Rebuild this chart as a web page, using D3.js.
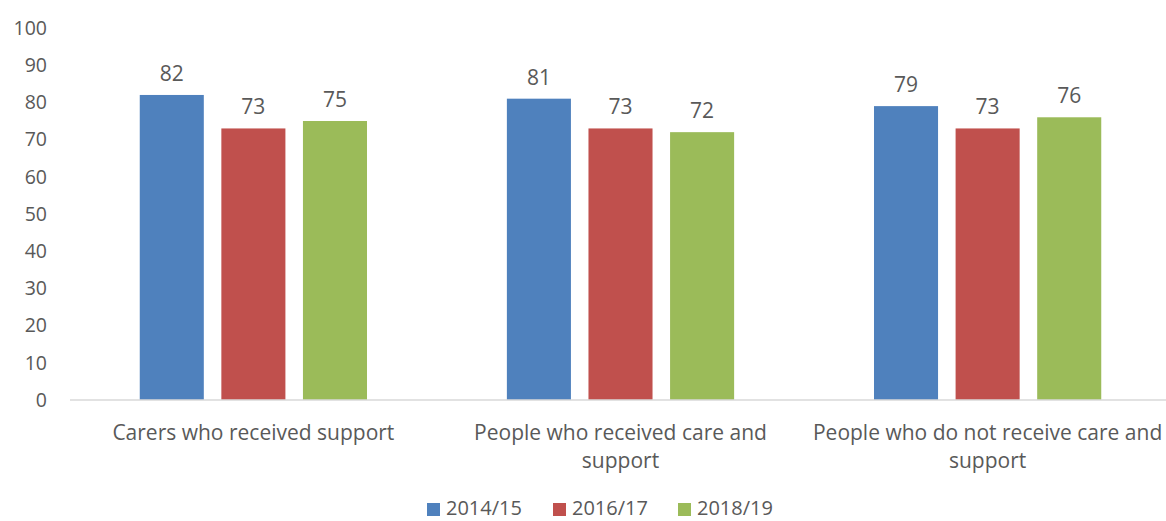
<!DOCTYPE html>
<html>
<head>
<meta charset="utf-8">
<script src="https://cdn.jsdelivr.net/npm/d3@7"></script>
<style>
  body { margin: 0; background: #fff; }
  text { font-family: "Open Sans", "Liberation Sans", sans-serif; fill: #595959; }
</style>
</head>
<body>
<svg id="chart" width="1166" height="521"></svg>
<script>
const categories = ["Carers who received support", "People who received care and support", "People who do not receive care and support"];
const seriesNames = ["2014/15", "2016/17", "2018/19"];
const colors = ["#4f81bd", "#c0504d", "#9bbb59"];
const values = [
  [82, 81, 79],
  [73, 73, 73],
  [75, 72, 76]
];
const yTicks = [0, 10, 20, 30, 40, 50, 60, 70, 80, 90, 100];

const svg = d3.select("#chart");

const y = d3.scaleLinear().domain([0, 100]).range([400, 28]);
const x0 = d3.scaleBand().domain(categories).range([70, 1171]).paddingInner(0.381).paddingOuter(0.19);
const x1 = d3.scaleBand().domain(seriesNames).range([0, x0.bandwidth()]).paddingInner(0.215);

// y tick labels
svg.append("g").selectAll("text")
  .data(yTicks).enter().append("text")
  .attr("x", 47)
  .attr("y", d => y(d))
  .attr("dy", "0.35em")
  .attr("text-anchor", "end")
  .style("font-size", "19.5px")
  .text(d => d);

// bars
const groups = svg.append("g").selectAll("g")
  .data(categories).enter().append("g")
  .attr("transform", d => `translate(${x0(d)},0)`);

groups.each(function(cat, ci) {
  const g = d3.select(this);
  seriesNames.forEach((s, si) => {
    const v = values[si][ci];
    g.append("rect")
      .attr("x", x1(s))
      .attr("y", y(v))
      .attr("width", x1.bandwidth())
      .attr("height", y(0) - y(v))
      .attr("fill", colors[si]);
    g.append("text")
      .attr("x", x1(s) + x1.bandwidth() / 2)
      .attr("y", y(v) - 14)
      .attr("text-anchor", "middle")
      .style("font-size", "21px")
      .text(v);
  });
});

// x axis line
svg.append("line")
  .attr("x1", 70).attr("x2", 1166)
  .attr("y1", y(0)).attr("y2", y(0))
  .attr("stroke", "#d9d9d9").attr("stroke-width", 1.5);

// category labels (wrapped)
const wrapped = {
  "Carers who received support": ["Carers who received support"],
  "People who received care and support": ["People who received care and", "support"],
  "People who do not receive care and support": ["People who do not receive care and", "support"]
};
categories.forEach(c => {
  const t = svg.append("text")
    .attr("text-anchor", "middle")
    .style("font-size", "21px");
  wrapped[c].forEach((line, i) => {
    t.append("tspan")
      .attr("x", x0(c) + x0.bandwidth() / 2)
      .attr("y", 440 + i * 28)
      .text(line);
  });
});

// legend
const legendX = [427, 553, 678];
const legend = svg.append("g");
seriesNames.forEach((s, i) => {
  legend.append("rect")
    .attr("x", legendX[i]).attr("y", 503)
    .attr("width", 13).attr("height", 13)
    .attr("fill", colors[i]);
  legend.append("text")
    .attr("x", legendX[i] + 19).attr("y", 515)
    .style("font-size", "20px")
    .text(s);
});
</script>
</body>
</html>
